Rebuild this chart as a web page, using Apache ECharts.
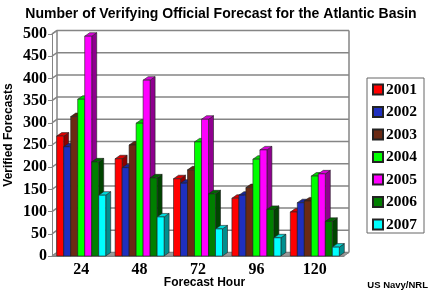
<!DOCTYPE html>
<html>
<head>
<meta charset="utf-8">
<script src="https://cdn.jsdelivr.net/npm/echarts@6/dist/echarts.min.js"></script>
<style>html,body{margin:0;padding:0;background:#fff}#container{width:432px;height:292px}</style>
</head>
<body>
<div id="container"></div>
<script>
const hours = ['24', '48', '72', '96', '120'];
const years = ['2001', '2002', '2003', '2004', '2005', '2006', '2007'];
const v2001 = [270, 219, 174, 130, 99];
const v2002 = [246, 199, 164, 137, 120];
const v2003 = [314, 250, 194, 154, 124];
const v2004 = [353, 299, 257, 218, 180];
const v2005 = [495, 396, 308, 239, 185];
const v2006 = [212, 176, 140, 105, 78];
const v2007 = [137, 88, 61, 41, 20];
const yearValues = [v2001, v2002, v2003, v2004, v2005, v2006, v2007];
const yTicks = [0, 50, 100, 150, 200, 250, 300, 350, 400, 450, 500];

// front, top, side colours
const colors = [
    ['#ff0000', '#dd0000', '#8f0000'],
    ['#1f2fbf', '#1a2899', '#101a70'],
    ['#6b2a14', '#5c2411', '#45190a'],
    ['#00ff00', '#00d800', '#008f00'],
    ['#ff00ff', '#d800d8', '#8f008f'],
    ['#007f00', '#006600', '#004400'],
    ['#00ffff', '#00d8d8', '#008f8f']
];

const DX = 5, DY = 3.5, BAR = 7;
const GREY = '#858585';

function poly(points, fill, z2) {
    return {
        type: 'polygon',
        z2: z2 || 0,
        shape: { points: points },
        style: { fill: fill, stroke: '#222', lineWidth: 0.6 }
    };
}

function barSeries(name, idx) {
    return {
        name: name,
        type: 'custom',
        z: 3 + idx,
        clip: false,
        itemStyle: { color: colors[idx][0], borderColor: '#222', borderWidth: 0.6 },
        encode: { x: 0, y: 1 },
        data: yearValues[idx].map((v, i) => [i, v]),
        renderItem: function (params, api) {
            const top = api.coord([api.value(0), api.value(1)]);
            const base = api.coord([api.value(0), 0]);
            const x = top[0] + (idx - 3.5) * BAR;
            const x2 = x + BAR;
            return {
                type: 'group',
                children: [
                    poly([[x2, top[1]], [x2 + DX, top[1] - DY], [x2 + DX, base[1] - DY], [x2, base[1]]], colors[idx][2]),
                    poly([[x, top[1]], [x + DX, top[1] - DY], [x2 + DX, top[1] - DY], [x2, top[1]]], colors[idx][1]),
                    poly([[x, top[1]], [x2, top[1]], [x2, base[1]], [x, base[1]]], colors[idx][0])
                ]
            };
        }
    };
}

// back wall, side wall and floor
const wallSeries = {
    type: 'custom',
    z: 1,
    silent: true,
    clip: false,
    data: yTicks.map(t => [0, t]),
    encode: { x: 0, y: 1 },
    renderItem: function (params, api) {
        const band = api.size([1, 0])[0];
        const first = api.coord([0, api.value(1)]);
        const xl = first[0] - band / 2;
        const xr = xl + band * hours.length;
        const y = first[1];
        const children = [{
            type: 'polyline',
            shape: { points: [[xl, y], [xl + DX, y - DY], [xr + DX, y - DY]] },
            style: { fill: 'none', stroke: GREY, lineWidth: 1.5 }
        }];
        if (api.value(1) === 0) {
            const topY = api.coord([0, 500])[1];
            children.push({
                type: 'polygon',
                shape: { points: [[xl, y], [xl + DX, y - DY], [xr + DX, y - DY], [xr, y]] },
                style: { fill: '#999', stroke: GREY, lineWidth: 1 }
            });
            children.push({
                type: 'polyline',
                shape: { points: [[xl, topY], [xl + DX, topY - DY]] },
                style: { fill: 'none', stroke: GREY, lineWidth: 1.5 }
            });
            children.push({
                type: 'line',
                shape: { x1: xl + DX, y1: topY - DY, x2: xl + DX, y2: y - DY },
                style: { stroke: GREY, lineWidth: 1.5 }
            });
            children.push({
                type: 'line',
                shape: { x1: xr + DX, y1: topY - DY, x2: xr + DX, y2: y - DY },
                style: { stroke: GREY, lineWidth: 1.5 }
            });
        }
        return { type: 'group', children: children };
    }
};

const chart = echarts.init(document.getElementById('container'), null, { renderer: 'canvas' });
chart.setOption({
    animation: false,
    backgroundColor: '#fff',
    title: [{
        text: 'Number of Verifying Official Forecast for the Atlantic Basin',
        left: 221, top: 7, padding: 0, textAlign: 'center',
        textStyle: { fontFamily: 'Liberation Sans', fontWeight: 'bold', fontSize: 14, color: '#000' }
    }, {
        text: 'US Navy/NRL',
        left: 428, top: 280, padding: 0, textAlign: 'right',
        textStyle: { fontFamily: 'Liberation Sans', fontWeight: 'bold', fontSize: 9.5, color: '#000' }
    }],
    grid: { left: 52, right: 88, top: 34, bottom: 36, outerBoundsMode: 'none' },
    legend: {
        data: years,
        orient: 'vertical',
        left: 367, top: 78,
        padding: [3.5, 7, 0.5, 5],
        itemGap: 6.5,
        itemWidth: 10, itemHeight: 10,
        icon: 'rect',
        borderColor: '#666',
        borderWidth: 1,
        backgroundColor: '#fff',
        textStyle: { fontFamily: 'Liberation Serif', fontWeight: 'bold', fontSize: 15.5, color: '#000', padding: [0, 0, 0, -2], lineHeight: 16 }
    },
    xAxis: {
        type: 'category',
        data: hours,
        name: 'Forecast Hour',
        nameLocation: 'middle',
        nameGap: 21,
        nameMoveOverlap: false,
        nameTextStyle: { fontFamily: 'Liberation Sans', fontWeight: 'bold', fontSize: 12, color: '#000', padding: [0, 0, 0, 13] },
        axisLine: { lineStyle: { color: GREY, width: 1 } },
        axisTick: { lineStyle: { color: GREY }, length: 4 },
        axisLabel: { fontFamily: 'Liberation Serif', fontWeight: 'bold', fontSize: 16, color: '#000', margin: 6 }
    },
    yAxis: {
        type: 'value',
        min: 0, max: 500, interval: 50,
        name: 'Verified Forecasts',
        nameLocation: 'middle',
        nameGap: 37,
        nameMoveOverlap: false,
        nameTextStyle: { fontFamily: 'Liberation Sans', fontWeight: 'bold', fontSize: 12, color: '#000', padding: [0, 0, 0, 20] },
        splitLine: { show: false },
        axisLine: { show: true, lineStyle: { color: GREY, width: 1 } },
        axisTick: { show: true, lineStyle: { color: GREY }, length: 4 },
        axisLabel: { fontFamily: 'Liberation Serif', fontWeight: 'bold', fontSize: 16, color: '#000', margin: 5 }
    },
    series: [wallSeries].concat(years.map(barSeries))
});
</script>
</body>
</html>
